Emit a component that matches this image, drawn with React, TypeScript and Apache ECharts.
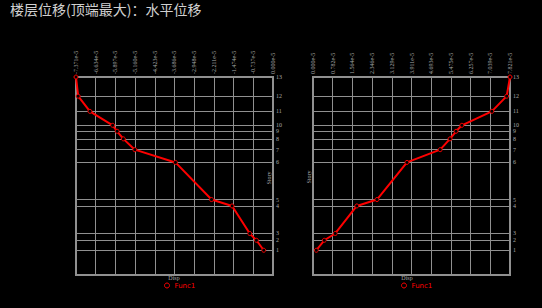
import React, { useEffect, useRef } from "react";
import * as echarts from "echarts";

const floors = ["1", "2", "3", "4", "5", "6", "7", "8", "9", "10", "11", "12", "13"];
const elevations = [6.2, 8.7, 10.4, 17.3, 18.9, 28.2, 31.4, 34.1, 36.0, 37.5, 41.0, 44.8, 49.6];
const leftValues = [-0.347, -0.62, -0.87, -1.53, -2.3, -3.65, -5.17, -5.6, -5.83, -6.0, -6.85, -7.29, -7.371];
const rightValues = [0.131, 0.448, 0.884, 1.74, 2.54, 3.73, 5.05, 5.44, 5.68, 5.91, 7.1, 7.69, 7.821];
const leftTicks = [-7.371, -6.634, -5.897, -5.16, -4.423, -3.686, -2.948, -2.211, -1.474, -0.737, 0];
const rightTicks = [0, 0.782, 1.564, 2.346, 3.129, 3.911, 4.693, 5.475, 6.257, 7.039, 7.821];
const seriesName = "Func1";
const titleText = "楼层位移(顶端最大)：水平位移";
const xName = "Disp";
const yName = "Story";

const GRAY = "#909090";
const LABEL = "#a8a8a8";

export default function App() {
  const ref = useRef<HTMLDivElement>(null);
  useEffect(() => {
    document.body.style.margin = "0";
    document.body.style.background = "#000";
    const chart = echarts.init(ref.current!, null, { renderer: "svg" });
    const fmt = (v: number) => v.toFixed(3) + "e-5";
    const xAxisBase = (grid: number, ticks: number[]) => ({
      type: "value",
      gridIndex: grid,
      position: "top",
      min: ticks[0],
      max: ticks[ticks.length - 1],
      axisLine: { show: true, lineStyle: { color: GRAY, width: 1 } },
      axisTick: { show: false, customValues: ticks },
      axisLabel: {
        customValues: ticks,
        rotate: 90,
        formatter: fmt,
        color: LABEL,
        fontSize: 6,
        fontFamily: "Liberation Sans Narrow",
        margin: 3,
      },
      splitLine: { show: true, lineStyle: { color: GRAY, width: 1 } },
    });
    const yAxisBase = (grid: number) => ({
      type: "value",
      gridIndex: grid,
      position: "right",
      min: 0,
      max: elevations[elevations.length - 1],
      axisLine: { show: true, lineStyle: { color: GRAY, width: 2 } },
      axisTick: { show: false, customValues: elevations },
      axisLabel: {
        customValues: elevations,
        formatter: (v: number) => {
          const i = elevations.indexOf(v);
          return i >= 0 ? floors[i] : "";
        },
        color: LABEL,
        fontSize: 6,
        fontFamily: "Liberation Sans Narrow",
        margin: 3,
        hideOverlap: false,
      },
      splitLine: { show: true, lineStyle: { color: GRAY, width: 1 } },
    });
    const mkSeries = (idx: number, vals: number[]) => ({
      type: "line",
      name: seriesName,
      xAxisIndex: idx,
      yAxisIndex: idx,
      data: elevations.map((e, i) => [vals[i], e]),
      symbol: "circle",
      symbolSize: 4,
      lineStyle: { color: "#ff0000", width: 2 },
      itemStyle: { color: "#000000", borderColor: "#ff0000", borderWidth: 1 },
    });
    const legendBase = (left: number) => ({
      left,
      top: 277,
      data: [seriesName],
      icon: "circle",
      itemWidth: 5,
      itemHeight: 5,
      itemGap: 4,
      itemStyle: { color: "#000000", borderColor: "#ff0000", borderWidth: 1 },
      textStyle: { color: "#ff0000", fontSize: 7, fontFamily: "DejaVu Sans" },
    });
    const small = (x: number, y: number, text: string, rot = 0) => ({
      type: "text",
      x,
      y,
      rotation: rot,
      style: {
        text,
        fill: LABEL,
        fontSize: 6,
        fontFamily: "Liberation Sans Narrow",
        align: "center",
        verticalAlign: "middle",
      },
    });
    chart.setOption({
      animation: false,
      backgroundColor: "#000",
      grid: [
        { left: 76, top: 77, width: 197, height: 198, show: true, borderColor: GRAY, borderWidth: 2, backgroundColor: "transparent" },
        { left: 313, top: 77, width: 197, height: 198, show: true, borderColor: GRAY, borderWidth: 2, backgroundColor: "transparent" },
      ],
      xAxis: [xAxisBase(0, leftTicks), xAxisBase(1, rightTicks)],
      yAxis: [yAxisBase(0), yAxisBase(1)],
      legend: [legendBase(159), legendBase(396)],
      series: [mkSeries(0, leftValues), mkSeries(1, rightValues)],
      graphic: [
        {
          type: "text",
          left: 10,
          top: 2,
          style: { text: titleText, fill: "#d0d0d0", fontSize: 14, fontFamily: "Noto Sans CJK SC" },
        },
        small(174, 278, xName),
        small(407, 278, xName),
        small(269, 178, yName, Math.PI / 2),
        small(309, 177, yName, Math.PI / 2),
      ],
    });
    return () => chart.dispose();
  }, []);
  return <div ref={ref} style={{ width: 542, height: 308 }} />;
}
